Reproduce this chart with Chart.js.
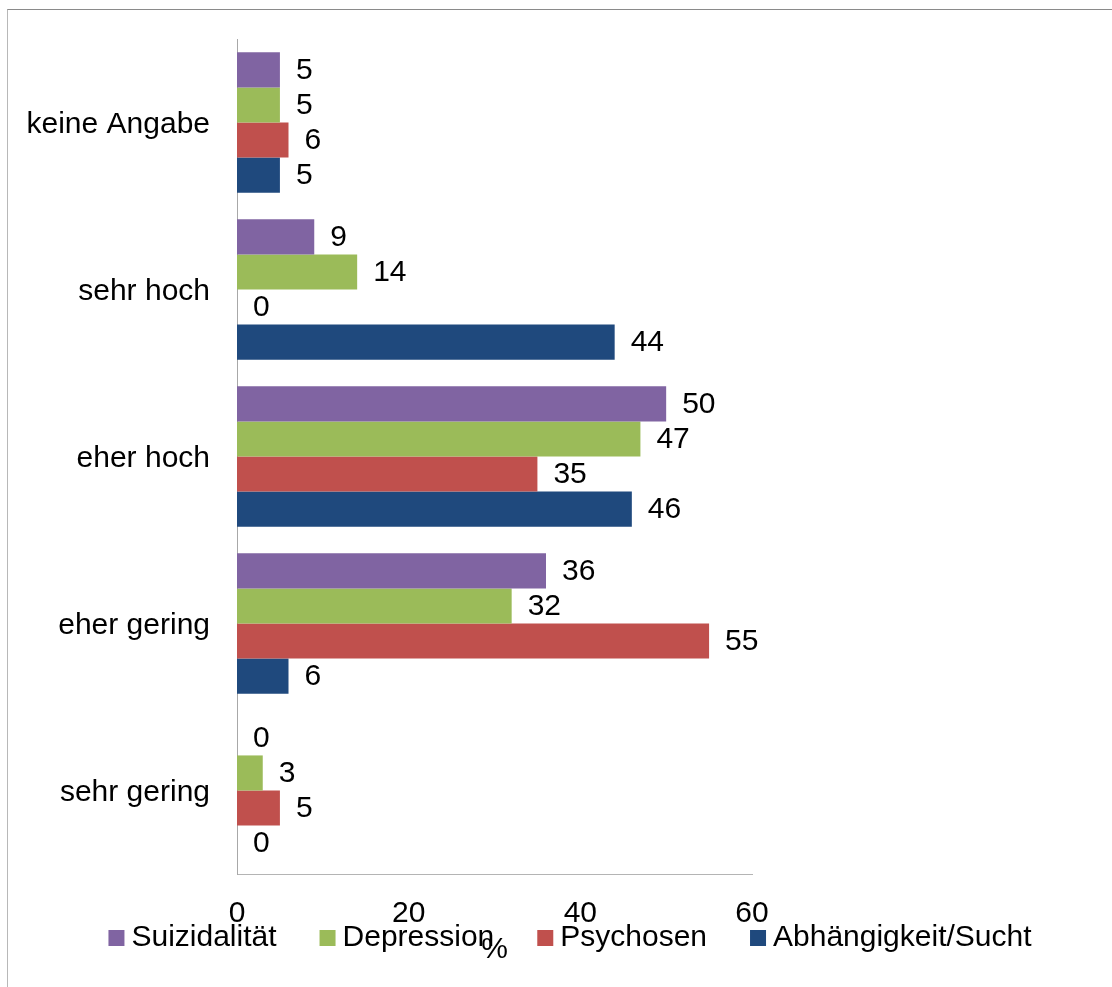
<!DOCTYPE html>
<html>
<head>
<meta charset="utf-8">
<title>Einschätzung</title>
<script src="https://cdn.jsdelivr.net/npm/chart.js@4/dist/chart.umd.min.js"></script>
<style>
    html, body { margin: 0; padding: 0; background: #fff; overflow: hidden; }
    #wrap { position: relative; width: 1112px; height: 987px; }
    #frame {
        position: absolute; left: 7px; top: 9px; width: 1200px; height: 1100px;
        border-top: 1px solid #8a8a8a; border-left: 1px solid #b8b8b8;
        pointer-events: none;
    }
    canvas { position: absolute; left: 0; top: 0; }
</style>
</head>
<body>
<div id="wrap">
    <div id="frame"></div>
    <canvas id="chart" width="1112" height="987"></canvas>
</div>
<script>
const categories = ['keine Angabe', 'sehr hoch', 'eher hoch', 'eher gering', 'sehr gering'];
const seriesNames = ['Suizidalität', 'Depression', 'Psychosen', 'Abhängigkeit/Sucht'];
const suizidalitaet = [5, 9, 50, 36, 0];
const depression = [5, 14, 47, 32, 3];
const psychosen = [6, 0, 35, 55, 5];
const sucht = [5, 44, 46, 6, 0];
const xTicks = [0, 20, 40, 60];
const colors = ['#8064A2', '#9BBB59', '#C0504D', '#1F497D'];

const FONT = '"Liberation Sans", Arial, sans-serif';
const SIZE = 30;
Chart.defaults.font.family = FONT;
Chart.defaults.font.size = SIZE;
Chart.defaults.color = '#000';

// value labels to the right of every bar
const valueLabels = {
    id: 'valueLabels',
    afterDatasetsDraw(chart) {
        const ctx = chart.ctx;
        ctx.save();
        ctx.font = `${SIZE}px ${FONT}`;
        ctx.fillStyle = '#000';
        ctx.textAlign = 'left';
        ctx.textBaseline = 'middle';
        chart.data.datasets.forEach((ds, i) => {
            chart.getDatasetMeta(i).data.forEach((bar, j) => {
                ctx.fillText(String(ds.data[j]), bar.x + 16, bar.y + 1);
            });
        });
        ctx.restore();
    }
};

// legend row and the "%" axis title underneath the ticks
const bottomLegend = {
    id: 'bottomLegend',
    afterDraw(chart) {
        const ctx = chart.ctx;
        ctx.save();
        ctx.font = `${SIZE}px ${FONT}`;
        ctx.textBaseline = 'middle';
        ctx.textAlign = 'left';
        const box = 16, boxGap = 7, itemGap = 43, cy = 938;
        const widths = seriesNames.map(n => ctx.measureText(n).width);
        const total = widths.reduce((a, w) => a + w + box + boxGap, 0) + itemGap * (seriesNames.length - 1);
        let x = 570 - total / 2;
        seriesNames.forEach((name, i) => {
            ctx.fillStyle = colors[i];
            ctx.fillRect(x, cy - box / 2, box, box);
            ctx.fillStyle = '#000';
            ctx.fillText(name, x + box + boxGap, cy);
            x += box + boxGap + widths[i] + itemGap;
        });
        const area = chart.chartArea;
        ctx.textAlign = 'center';
        ctx.fillText('%', (area.left + area.right) / 2, 950);
        ctx.restore();
    }
};

new Chart(document.getElementById('chart'), {
    type: 'bar',
    data: {
        labels: categories,
        datasets: [suizidalitaet, depression, psychosen, sucht].map((values, i) => ({
            label: seriesNames[i],
            data: values,
            backgroundColor: colors[i],
            borderWidth: 0,
            categoryPercentage: 0.84,
            barPercentage: 1.0
        }))
    },
    options: {
        indexAxis: 'y',
        responsive: false,
        animation: false,
        layout: { padding: { left: 0, top: 39, right: 360, bottom: 0 } },
        plugins: {
            legend: { display: false },
            tooltip: { enabled: false }
        },
        scales: {
            x: {
                min: 0,
                max: 60,
                afterBuildTicks(scale) {
                    scale.ticks = xTicks.map(v => ({ value: v }));
                },
                afterFit(scale) {
                    scale.height = 113;
                    scale.paddingLeft = 0;
                    scale.paddingRight = 0;
                },
                grid: { display: false, drawTicks: false },
                border: { display: true, color: '#b4b4b4', width: 1 },
                ticks: { padding: 22, maxRotation: 0 }
            },
            y: {
                afterFit(scale) {
                    scale.width = 237;
                    scale.paddingTop = 0;
                    scale.paddingBottom = 0;
                },
                grid: { display: false, drawTicks: false },
                border: { display: true, color: '#a8a8a8', width: 1 },
                ticks: { padding: 27, labelOffset: 2 }
            }
        }
    },
    plugins: [valueLabels, bottomLegend]
});
</script>
</body>
</html>
